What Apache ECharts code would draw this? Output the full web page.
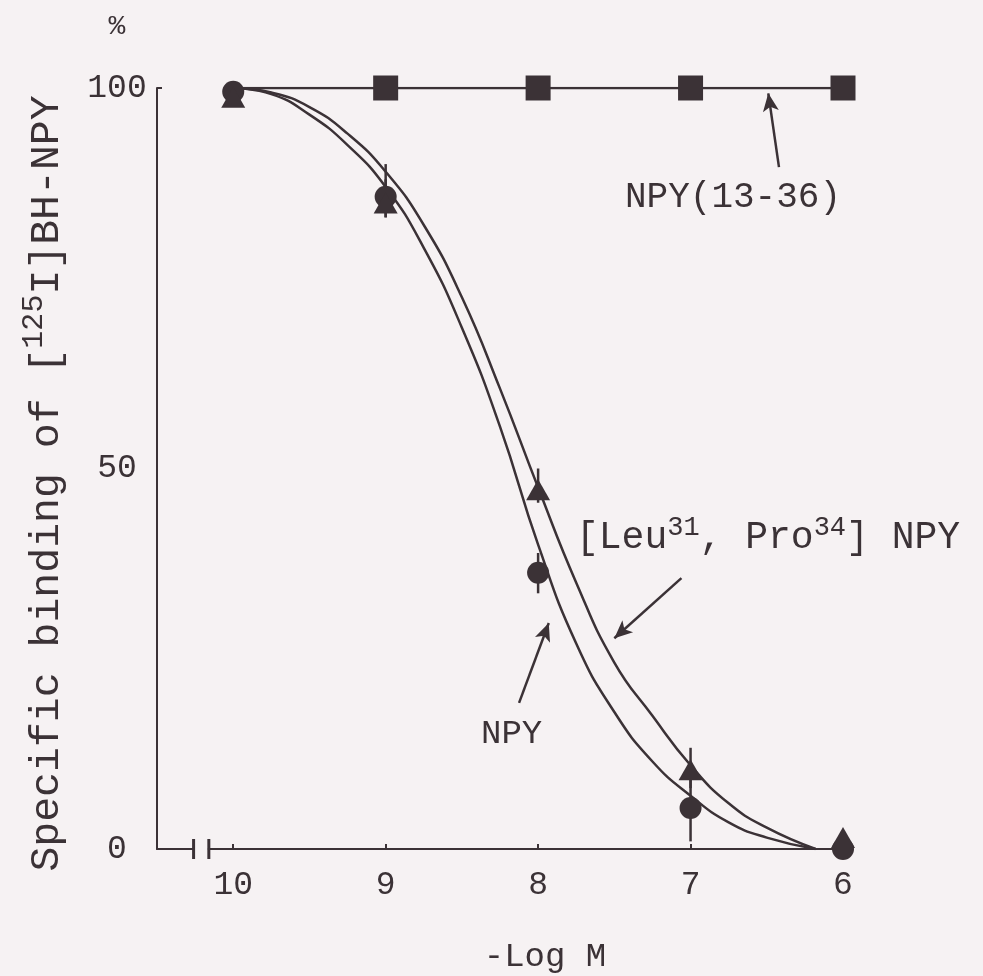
<!DOCTYPE html>
<html>
<head>
<meta charset="utf-8">
<script src="https://cdn.jsdelivr.net/npm/echarts@6/dist/echarts.min.js"></script>
<style>
html,body{margin:0;padding:0;background:#f6f2f3;}
#chart{width:983px;height:976px;}
</style>
</head>
<body>
<div id="chart"></div>
<script>
// ---- data ----
var xTicks = [10, 9, 8, 7, 6];
var yTicks = [0, 50, 100];

// measured points: [-log M, % binding]
var npyPoints = [[10, 99.5], [9, 85.7], [8, 36.3], [7, 5.4], [6, 0]];
var leuPoints = [[10, 98.8], [9, 84.9], [8, 47.2], [7, 10.4], [6, 1.5]];
var frag1336Points = [[9, 100], [8, 100], [7, 100], [6, 100]];

// error bars: [x, low, high]
var npyErr = [[9, 83, 90], [8, 33.6, 38.9], [7, 1, 10]];
var leuErr = [[9, 83, 88], [8, 45.5, 50], [7, 8, 13.3]];

// fitted curves
var curveX = [10, 9.75, 9.5, 9.25, 9, 8.75, 8.5, 8.25, 8, 7.75, 7.5, 7.25, 7, 6.75, 6.5, 6.18];
var npyCurveY = [100, 99.2, 96.5, 92.5, 87, 79, 68.5, 55.5, 40, 27, 18, 11.5, 7, 3.5, 1.5, 0];
var leuCurveY = [100, 99.4, 97.5, 94, 89, 82, 72.5, 60.5, 47.5, 35, 24.5, 17.5, 11, 6, 2.8, 0];
var fragLineX = [10, 9, 8, 7, 6];
var fragLineY = [100, 100, 100, 100, 100];

// annotation arrows: [tailX, tailY, headX, headY] in data units
var arrowFrag = [6.42, 89.6, 6.49, 99.3];
var arrowLeu = [7.06, 35.6, 7.5, 27.7];
var arrowNpy = [8.125, 19.2, 7.93, 29.7];

// axis break marks (x values)
var breakMarks = [10.26, 10.16];

// ---- chart ----
var ink = '#3b3236';
var bg = '#f6f2f3';
var font = '"Liberation Mono", "DejaVu Sans Mono", monospace';

function zip(xs, ys) { return xs.map(function (x, i) { return [x, ys[i]]; }); }
function arrowLine(a) { return [{ coord: [a[0], a[1]] }, { coord: [a[2], a[3]] }]; }

var chart = echarts.init(document.getElementById('chart'));
chart.setOption({
  backgroundColor: bg,
  animation: false,
  grid: { left: 157, right: 140, top: 88, bottom: 127, containLabel: false, outerBoundsMode: 'none' },
  xAxis: {
    type: 'value', inverse: true, min: 6, max: 10.5,
    name: '-Log M', nameLocation: 'middle', nameGap: 91,
    nameTextStyle: { fontFamily: font, fontSize: 34, color: ink, padding: [0, 0, 0, 90] },
    axisLine: { lineStyle: { color: ink, width: 2 } },
    axisTick: { show: true, inside: true, length: 5, customValues: xTicks, lineStyle: { color: ink, width: 2 } },
    axisLabel: { customValues: xTicks, fontFamily: font, fontSize: 33, color: ink, margin: 20 },
    splitLine: { show: false }
  },
  yAxis: {
    type: 'value', min: 0, max: 100, interval: 50,
    name: '{a|Specific binding of [}{s|125}{a|I]BH-NPY}',
    nameLocation: 'middle', nameGap: 82, nameRotate: 90,
    nameTextStyle: {
      color: ink, padding: [0, 30, 0, 0],
      rich: {
        a: { fontFamily: font, fontSize: 41.5, color: ink, lineHeight: 56 },
        s: { fontFamily: font, fontSize: 30, color: ink, lineHeight: 56, verticalAlign: 'top' }
      }
    },
    axisLine: { lineStyle: { color: ink, width: 2 } },
    axisTick: { show: true, inside: true, length: 5, customValues: [100], lineStyle: { color: ink, width: 2 } },
    axisLabel: { customValues: yTicks, fontFamily: font, fontSize: 33, color: ink, align: 'center', margin: 40 },
    splitLine: { show: false }
  },
  series: [
    {
      name: 'NPY fit', type: 'line', data: zip(curveX, npyCurveY), smooth: 0.5,
      showSymbol: false, lineStyle: { color: ink, width: 2.5 }, silent: true, z: 2,
      markLine: {
        silent: true, symbol: ['none', 'arrow'], symbolSize: [12, 18],
        lineStyle: { color: ink, width: 2.5, type: 'solid' }, label: { show: false },
        data: [arrowLine(arrowNpy), arrowLine(arrowLeu), arrowLine(arrowFrag)]
      }
    },
    {
      name: 'Leu fit', type: 'line', data: zip(curveX, leuCurveY), smooth: 0.5,
      showSymbol: false, lineStyle: { color: ink, width: 2.5 }, silent: true, z: 2
    },
    {
      name: 'NPY(13-36) line', type: 'line', data: zip(fragLineX, fragLineY),
      showSymbol: false, lineStyle: { color: ink, width: 2.5 }, silent: true, z: 2
    },
    {
      name: 'error bars', type: 'custom', silent: true, z: 3,
      data: npyErr.concat(leuErr),
      renderItem: function (params, api) {
        var p1 = api.coord([api.value(0), api.value(1)]);
        var p2 = api.coord([api.value(0), api.value(2)]);
        return { type: 'line', shape: { x1: p1[0], y1: p1[1], x2: p2[0], y2: p2[1] }, style: { stroke: ink, lineWidth: 2.5 } };
      }
    },
    {
      name: 'axis break', type: 'custom', silent: true, z: 5,
      data: [[breakMarks[0], breakMarks[1]]],
      renderItem: function (params, api) {
        var a = api.coord([api.value(0), 0]);
        var b = api.coord([api.value(1), 0]);
        return {
          type: 'group', children: [
            { type: 'rect', shape: { x: a[0] + 1, y: a[1] - 3, width: b[0] - a[0] - 2, height: 6 }, style: { fill: bg } },
            { type: 'line', shape: { x1: a[0], y1: a[1] - 10, x2: a[0], y2: a[1] + 10 }, style: { stroke: ink, lineWidth: 3 } },
            { type: 'line', shape: { x1: b[0], y1: b[1] - 10, x2: b[0], y2: b[1] + 10 }, style: { stroke: ink, lineWidth: 3 } }
          ]
        };
      }
    },
    {
      name: 'NPY', type: 'scatter', data: npyPoints, symbol: 'circle', symbolSize: 22, clip: false,
      itemStyle: { color: ink, opacity: 1 }, z: 6
    },
    {
      name: '[Leu31, Pro34] NPY', type: 'scatter', data: leuPoints, symbol: 'triangle', symbolSize: [24, 21], clip: false,
      itemStyle: { color: ink, opacity: 1 }, z: 6
    },
    {
      name: 'NPY(13-36)', type: 'scatter', data: frag1336Points, symbol: 'rect', symbolSize: 25, clip: false,
      itemStyle: { color: ink, opacity: 1 }, z: 6
    }
  ],
  graphic: [
    { type: 'text', x: 117, y: 27, style: { text: '%', fontFamily: font, fontSize: 28, fill: ink, align: 'center', verticalAlign: 'middle' } },
    { type: 'text', x: 625, y: 197, style: { text: 'NPY(13-36)', fontFamily: font, fontSize: 36, fill: ink, align: 'left', verticalAlign: 'middle' } },
    { type: 'text', x: 481, y: 734, style: { text: 'NPY', fontFamily: font, fontSize: 34, fill: ink, align: 'left', verticalAlign: 'middle' } },
    {
      type: 'text', x: 576, y: 538,
      style: {
        text: '{a|[Leu}{s|31}{a|, Pro}{s|34}{a|] NPY}', align: 'left', verticalAlign: 'middle',
        rich: {
          a: { fontFamily: font, fontSize: 38, fill: ink, lineHeight: 48 },
          s: { fontFamily: font, fontSize: 27, fill: ink, lineHeight: 48, verticalAlign: 'top' }
        }
      }
    }
  ]
});
</script>
</body>
</html>
